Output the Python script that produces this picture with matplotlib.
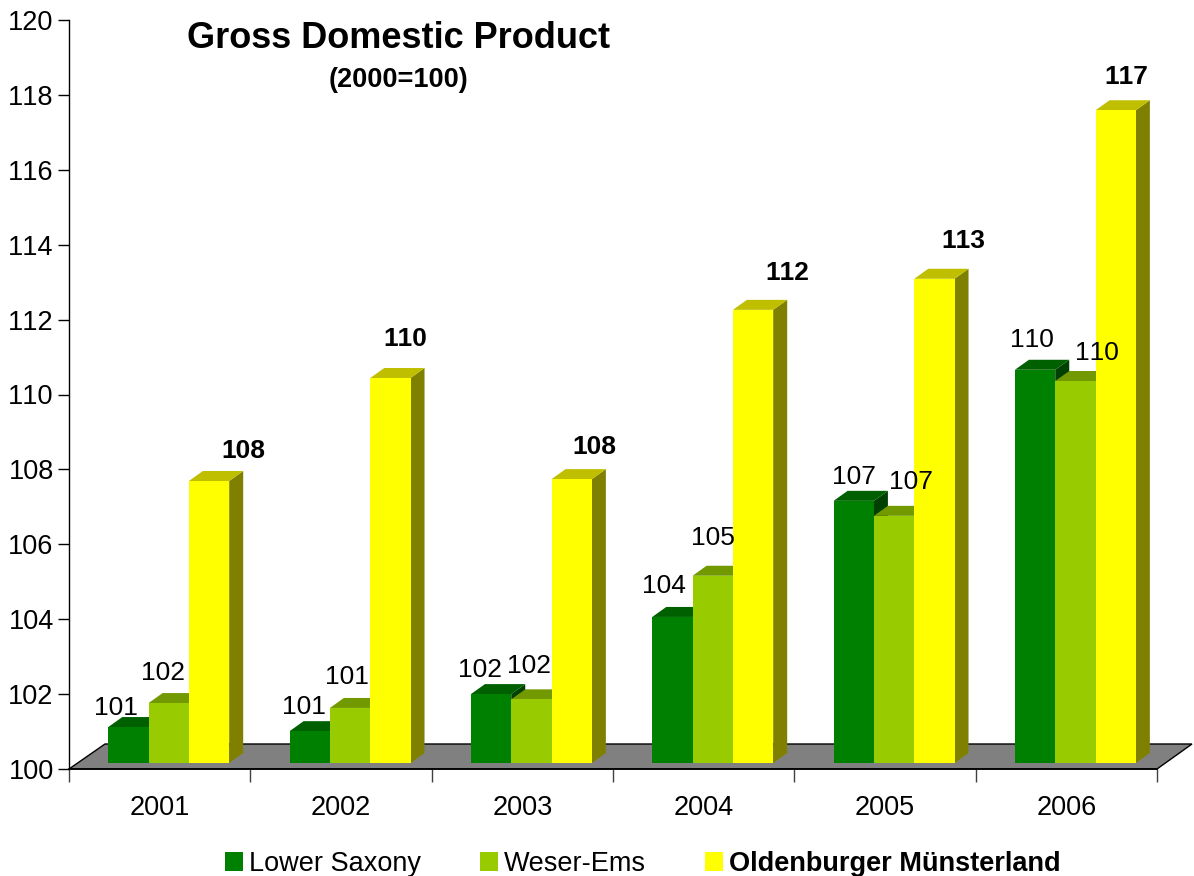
import numpy as np
import matplotlib
matplotlib.use('Agg')
import matplotlib.pyplot as plt
from matplotlib.patches import Polygon
from matplotlib.transforms import Affine2D, IdentityTransform
from matplotlib.colors import to_rgb

plt.rcParams['font.family'] = ['Liberation Sans', 'DejaVu Sans']
plt.rcParams['text.kerning_factor'] = 6

years = ['2001', '2002', '2003', '2004', '2005', '2006']
lower_saxony = [100.96, 100.85, 101.84, 103.9, 107.0, 110.5]
weser_ems = [101.6, 101.47, 101.7, 105.0, 106.6, 110.2]
oldenburger = [107.53, 110.28, 107.58, 112.1, 112.93, 117.43]

ls_labels = ['101', '101', '102', '104', '107', '110']
we_labels = ['102', '101', '102', '105', '107', '110']
om_labels = ['108', '110', '108', '112', '113', '117']

# hand placed labels in the original, pixels from the bar top centre
ls_dx = [-14, -7, -13, -10, -1, -5]
ls_dy = [21, 26, 26, 32, 25, 31]
we_dx = [-7, -5, -4, -1, 15, 20]
we_dy = [32, 32, 35, 39, 35, 30]
om_dx = [33, 13, 21, 33, 27, 9]
om_dy = [32, 41, 34, 38, 39, 35]

W, H = 1194, 876
fig = plt.figure(figsize=(W / 100, H / 100), dpi=100)
ax = fig.add_axes([69 / W, (H - 769) / H, 1088 / W, 749 / H])
ax.set_xlim(0, 6)
ax.set_ylim(100, 120)

bar_w = 0.2223
group_shift = 0.05
lift = 6      # bars stand a bit inside the floor
dep_x = 14
dep_y = 10


def shade(col, f):
    return tuple(c * f for c in to_rgb(col))


def px(x, y):
    return ax.transData.transform((x, y))


def bars3d(xs, vals, col, z):
    # side and top faces first, the front goes over them
    shifted = ax.transData + Affine2D().translate(0, lift)
    for x, v in zip(xs, vals):
        x0, yb = px(x - bar_w / 2, 100)
        x1, yt = px(x + bar_w / 2, v)
        yb += lift
        yt += lift
        side = [(x1, yb), (x1, yt), (x1 + dep_x, yt + dep_y), (x1 + dep_x, yb + dep_y)]
        top = [(x0, yt), (x1, yt), (x1 + dep_x, yt + dep_y), (x0 + dep_x, yt + dep_y)]
        ax.add_patch(Polygon(side, closed=True, fc=shade(col, 0.5), ec='none',
                             transform=IdentityTransform(), clip_on=False, zorder=z))
        ax.add_patch(Polygon(top, closed=True, fc=shade(col, 0.75), ec='none',
                             transform=IdentityTransform(), clip_on=False, zorder=z))
    b = ax.bar(xs, np.array(vals) - 100, bottom=100, width=bar_w, color=col,
               transform=shifted, clip_on=False, zorder=z + 0.5)
    return b


def labels(xs, vals, texts, dxs, dys, weight='normal'):
    for x, v, t, dx, dy in zip(xs, vals, texts, dxs, dys):
        ax.annotate(t, (x, v), xytext=(dx + 1.5, dy + lift - 1.5), textcoords='offset pixels',
                    ha='center', va='center', fontsize=19, fontweight=weight,
                    color='black', zorder=20, annotation_clip=False)


# floor
fx0, fy0 = px(0, 100)
fx1, _ = px(6, 100)
floor = [(fx0, fy0), (fx0 + 36, fy0 + 25), (fx1 + 35, fy0 + 25), (fx1, fy0)]
ax.add_patch(Polygon(floor, closed=True, fc='#808080', ec='black', lw=1,
                     transform=IdentityTransform(), clip_on=False, zorder=1))

centers = np.arange(len(years)) + 0.5
x_ls = centers - bar_w + group_shift
x_we = centers + group_shift
x_om = centers + bar_w + group_shift

bars_ls = bars3d(x_ls, lower_saxony, '#008000', 3)
bars_we = bars3d(x_we, weser_ems, '#99CC00', 4)
bars_om = bars3d(x_om, oldenburger, '#FFFF00', 5)

labels(x_ls, lower_saxony, ls_labels, ls_dx, ls_dy)
labels(x_we, weser_ems, we_labels, we_dx, we_dy)
labels(x_om, oldenburger, om_labels, om_dx, om_dy, weight='bold')

for s in ['top', 'right']:
    ax.spines[s].set_visible(False)
ax.spines['left'].set_linewidth(1)
ax.spines['bottom'].set_linewidth(1.2)
ax.spines['bottom'].set_zorder(2)

ax.set_yticks(np.arange(100, 121, 2))
ax.tick_params(axis='y', length=8, width=1, labelsize=19.5, pad=3, direction='out')
ax.set_xticks(np.arange(0, 7))
ax.set_xticklabels([])
ax.set_xticks(centers, minor=True)
ax.set_xticklabels(years, minor=True)
ax.tick_params(axis='x', which='major', length=9, width=1, color='#404040')
ax.tick_params(axis='x', which='minor', length=0, labelsize=19.5, pad=19)

fig.text(399 / W, 1 - 38 / H, 'Gross Domestic Product', ha='center', va='center',
         fontsize=26, fontweight='bold')
fig.text(399 / W, 1 - 80 / H, '(2000=100)', ha='center', va='center',
         fontsize=19.5, fontweight='bold')

leg = fig.legend([bars_ls, bars_we, bars_om],
                 ['Lower Saxony', 'Weser-Ems', 'Oldenburger Münsterland'],
                 loc='center left', bbox_to_anchor=(225 / W, 1 - 864 / H), ncols=3,
                 frameon=False, fontsize=19.5, handlelength=0.67, handleheight=0.67,
                 handletextpad=0.22, columnspacing=2.17, borderpad=0, borderaxespad=0)
leg.get_texts()[2].set_fontweight('bold')

fig.savefig('out.png', dpi=100)
